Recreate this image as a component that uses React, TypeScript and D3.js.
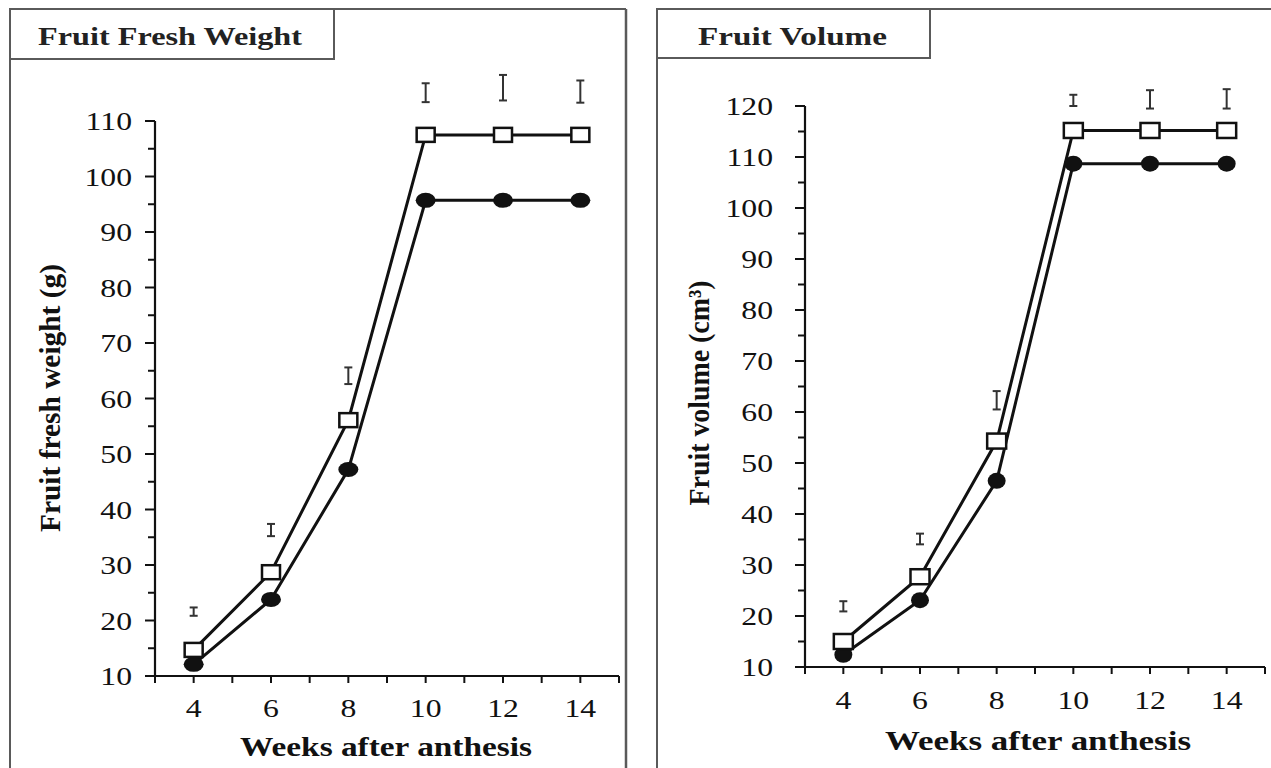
import React from "react";
import * as d3 from "d3";

const weeks = [4, 6, 8, 10, 12, 14];

const weightOpen = [14.7, 28.7, 56.1, 107.5, 107.5, 107.5];
const weightFilled = [12.1, 23.8, 47.2, 95.7, 95.7, 95.7];
const weightErrCenter = [21.6, 36.3, 64.1, 115.1, 116.0, 115.3];
const weightErrHalf = [0.75, 1.1, 1.5, 1.7, 2.3, 2.0];
const weightTicks = [10, 20, 30, 40, 50, 60, 70, 80, 90, 100, 110];

const volumeOpen = [15.0, 27.7, 54.3, 115.2, 115.2, 115.2];
const volumeFilled = [12.4, 23.1, 46.5, 108.7, 108.7, 108.7];
const volumeErrCenter = [21.9, 35.1, 62.3, 121.1, 121.3, 121.4];
const volumeErrHalf = [1.0, 1.05, 1.8, 1.1, 1.8, 1.9];
const volumeTicks = [10, 20, 30, 40, 50, 60, 70, 80, 90, 100, 110, 120];

const xTickLabels = [4, 6, 8, 10, 12, 14];
const xAxisTitle = "Weeks after anthesis";

const FONT = "'Liberation Serif', 'Times New Roman', serif";
const INK = "#111";

type PanelProps = {
  title: string;
  yTitle: string;
  open: number[];
  filled: number[];
  errC: number[];
  errH: number[];
  yTicks: number[];
  x0: number; x1: number;
  y0: number; y1: number;
  yMin: number; yMax: number;
  box: { x: number; w: number; h: number; right: number | null };
  titleX: number; titleLen: number;
  yTitleX: number; yTitleY: number; yTitleLen: number;
  xTitleX: number; xTitleY: number; xTitleLen: number;
  tickLabelX: number; xLabelY: number;
  sq: [number, number]; circ: [number, number];
};

function Panel(p: PanelProps) {
  const x = d3.scaleLinear().domain([3, 15]).range([p.x0, p.x1]);
  const y = d3.scaleLinear().domain([p.yMin, p.yMax]).range([p.y0, p.y1]);
  const line = d3.line<number>().x((_, i) => x(weeks[i])).y((d) => y(d));
  const minor = d3.range(p.yMin + 5, p.yMax, 10);
  const xt = d3.range(3, 16, 1);
  const yTop = y(p.yTicks[p.yTicks.length - 1]);
  const border = "#5a5a5a";
  return (
    <g>
      <line x1={p.box.x} x2={p.box.x} y1={9} y2={768} stroke={border} strokeWidth={2} />
      <line x1={p.box.x} x2={p.box.right ?? 1271} y1={9} y2={9} stroke={border} strokeWidth={2} />
      {p.box.right !== null && (
        <line x1={p.box.right} x2={p.box.right} y1={9} y2={768} stroke={border} strokeWidth={2.5} />
      )}
      <rect x={p.box.x} y={9} width={p.box.w} height={p.box.h} fill="white" stroke={border} strokeWidth={2} />
      <text x={p.titleX} y={45} fontFamily={FONT} fontWeight="bold" fontSize={26} fill="#222"
        textLength={p.titleLen} lengthAdjust="spacingAndGlyphs">{p.title}</text>

      <line x1={p.x0} x2={p.x0} y1={p.y0} y2={yTop} stroke={INK} strokeWidth={2.2} />
      {p.yTicks.map((t) => (
        <g key={"yt" + t}>
          <line x1={p.x0 - 10} x2={p.x0} y1={y(t)} y2={y(t)} stroke={INK} strokeWidth={2} />
          <text transform={`translate(${p.tickLabelX},${y(t) + 9}) scale(1.22,1)`} textAnchor="end"
            fontFamily={FONT} fontSize={26} fill={INK}>{t}</text>
        </g>
      ))}
      {minor.map((t) => (
        <line key={"ym" + t} x1={p.x0 - 7} x2={p.x0} y1={y(t)} y2={y(t)} stroke={INK} strokeWidth={2} />
      ))}

      <line x1={p.x0} x2={p.x1} y1={p.y0} y2={p.y0} stroke={INK} strokeWidth={2.2} />
      {xt.map((t) => (
        <line key={"xt" + t} x1={x(t)} x2={x(t)} y1={p.y0} y2={p.y0 + 7} stroke={INK} strokeWidth={2} />
      ))}
      {xTickLabels.map((t) => (
        <text key={"xl" + t} transform={`translate(${x(t)},${p.xLabelY}) scale(1.22,1)`} textAnchor="middle"
          fontFamily={FONT} fontSize={26} fill={INK}>{t}</text>
      ))}
      <text x={p.xTitleX} y={p.xTitleY} textAnchor="middle" fontFamily={FONT} fontWeight="bold" fontSize={28}
        fill={INK} textLength={p.xTitleLen} lengthAdjust="spacingAndGlyphs">{xAxisTitle}</text>
      <text transform={`translate(${p.yTitleX},${p.yTitleY}) rotate(-90) scale(1,1.2)`} textAnchor="middle"
        dominantBaseline="central" fontFamily={FONT} fontWeight="bold" fontSize={25} fill={INK}
        textLength={p.yTitleLen} lengthAdjust="spacingAndGlyphs">{p.yTitle}</text>

      {weeks.map((w, i) => {
        const cx = x(w);
        const top = y(p.errC[i] + p.errH[i]);
        const bot = y(p.errC[i] - p.errH[i]);
        return (
          <g key={"e" + w} stroke="#333" strokeWidth={2}>
            <line x1={cx} x2={cx} y1={top} y2={bot} />
            <line x1={cx - 4} x2={cx + 4} y1={top} y2={top} />
            <line x1={cx - 4} x2={cx + 4} y1={bot} y2={bot} />
          </g>
        );
      })}

      <path d={line(p.open) ?? ""} fill="none" stroke={INK} strokeWidth={3} />
      <path d={line(p.filled) ?? ""} fill="none" stroke={INK} strokeWidth={3} />
      {p.filled.map((v, i) => (
        <ellipse key={"c" + i} cx={x(weeks[i])} cy={y(v)} rx={p.circ[0] / 2} ry={p.circ[1] / 2} fill={INK} />
      ))}
      {p.open.map((v, i) => (
        <rect key={"s" + i} x={x(weeks[i]) - p.sq[0] / 2} y={y(v) - p.sq[1] / 2} width={p.sq[0]} height={p.sq[1]}
          fill="white" stroke={INK} strokeWidth={2.5} />
      ))}
    </g>
  );
}

export default function App() {
  return (
    <svg width={1271} height={768} style={{ position: "absolute", left: 0, top: 0, background: "white" }}>
      <rect x={0} y={0} width={1271} height={768} fill="white" />
      <Panel
        title="Fruit Fresh Weight" yTitle="Fruit fresh weight (g)"
        open={weightOpen} filled={weightFilled} errC={weightErrCenter} errH={weightErrHalf}
        yTicks={weightTicks}
        x0={155} x1={619} y0={676} y1={121} yMin={10} yMax={110}
        box={{ x: 10, w: 324, h: 50, right: 626 }}
        titleX={38} titleLen={264}
        yTitleX={50} yTitleY={398} yTitleLen={268}
        xTitleX={386} xTitleY={756} xTitleLen={292}
        tickLabelX={132} xLabelY={717}
        sq={[18, 14]} circ={[20, 15]}
      />
      <Panel
        title="Fruit Volume" yTitle="Fruit volume (cm³)"
        open={volumeOpen} filled={volumeFilled} errC={volumeErrCenter} errH={volumeErrHalf}
        yTicks={volumeTicks}
        x0={805} x1={1265} y0={667} y1={106} yMin={10} yMax={120}
        box={{ x: 657, w: 273, h: 49, right: null }}
        titleX={698} titleLen={189}
        yTitleX={699} yTitleY={393} yTitleLen={225}
        xTitleX={1038} xTitleY={750} xTitleLen={306}
        tickLabelX={773} xLabelY={709}
        sq={[19, 15]} circ={[18, 16]}
      />
    </svg>
  );
}
